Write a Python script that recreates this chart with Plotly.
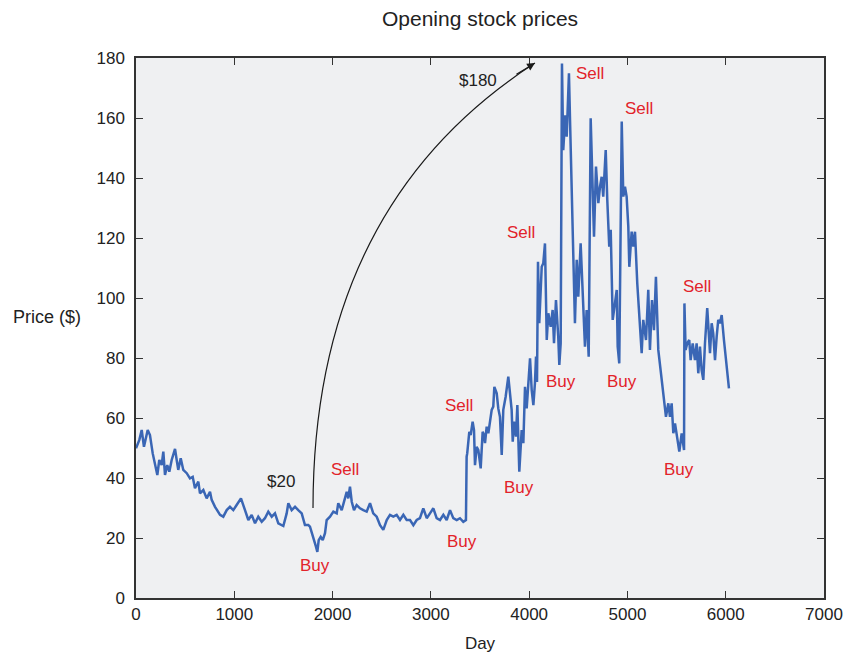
import plotly.graph_objects as go

# opening prices
days = [
    0, 34, 58, 81, 119, 142, 170, 193, 217, 237, 261, 278, 295, 318, 339, 363,
    397, 414, 430, 455, 481, 516, 549, 577, 600, 634, 651, 685, 719, 753, 770,
    804, 855, 888, 923, 956, 990, 1024, 1068, 1109, 1143, 1177, 1211, 1244,
    1279, 1312, 1346, 1381, 1414, 1448, 1499, 1533, 1550, 1584, 1618, 1651,
    1686, 1719, 1753, 1770, 1804, 1831, 1845, 1859, 1879, 1900, 1923, 1940,
    1974, 2008, 2042, 2058, 2093, 2126, 2144, 2160, 2177, 2195, 2218, 2245,
    2279, 2313, 2347, 2381, 2414, 2449, 2483, 2516, 2551, 2584, 2618, 2652,
    2686, 2720, 2754, 2788, 2822, 2856, 2889, 2923, 2958, 2991, 3025, 3059,
    3093, 3127, 3161, 3195, 3228, 3263, 3296, 3330, 3357, 3364, 3370, 3391,
    3405, 3425, 3439, 3449, 3466, 3483, 3507, 3527, 3541, 3551, 3568, 3585,
    3602, 3619, 3635, 3646, 3670, 3686, 3703, 3721, 3737, 3761, 3788, 3805,
    3822, 3833, 3846, 3866, 3880, 3900, 3924, 3941, 3958, 3975, 3991, 4009,
    4026, 4043, 4059, 4070, 4080, 4090, 4103, 4128, 4144, 4161, 4179, 4195,
    4219, 4239, 4253, 4273, 4296, 4307, 4321, 4334, 4347, 4368, 4382, 4405,
    4416, 4433, 4449, 4466, 4484, 4500, 4524, 4551, 4568, 4585, 4606, 4626,
    4647, 4660, 4680, 4704, 4721, 4738, 4754, 4779, 4795, 4815, 4830, 4850,
    4873, 4891, 4901, 4917, 4942, 4958, 4975, 4992, 5009, 5019, 5043, 5060,
    5077, 5100, 5145, 5161, 5189, 5212, 5229, 5250, 5270, 5290, 5314, 5348,
    5392, 5416, 5433, 5450, 5467, 5484, 5501, 5528, 5552, 5576, 5580, 5592,
    5609, 5629, 5643, 5664, 5687, 5704, 5721, 5738, 5755, 5772, 5789, 5812,
    5840, 5857, 5873, 5891, 5908, 5924, 5942, 5959, 5982, 6033,
]
prices = [
    49.9, 52.7, 56, 50.4, 56, 54.3, 48.2, 44.9, 41, 46, 44.3, 48.8, 41, 44.3,
    42.1, 46, 49.7, 46, 42.7, 46.6, 42.7, 41.6, 39.9, 40.4, 36.6, 38.8, 34.9,
    36, 33.2, 35.4, 32.7, 30.4, 27.7, 27.1, 29.3, 30.4, 29.3, 31, 33.2, 29.3,
    26, 27.7, 24.9, 27.1, 25.4, 26.6, 28.8, 27.1, 28.2, 24.9, 24, 28.2, 31.6,
    29.3, 30.4, 29.3, 28.2, 24.3, 24.3, 23.8, 20.4, 17.1, 15.4, 19.3, 20.4,
    19.3, 21.6, 26, 27.1, 28.8, 28.2, 31.6, 29.3, 33.2, 35.4, 33.2, 37.1, 32.1,
    29.3, 31, 29.9, 29.3, 28.8, 31.6, 28.2, 27.1, 24.3, 22.7, 26, 27.7, 27.1,
    27.7, 26, 27.7, 26, 26, 24.3, 26, 26.6, 29.9, 26.6, 28.2, 29.9, 26.6, 26,
    27.7, 26, 29.3, 26.6, 26, 26.6, 25.4, 26, 47.1, 48.2, 55.4, 54.3, 58.8,
    56, 44.3, 50.4, 49.3, 43.2, 55.4, 54.3, 51.6, 57.1, 54.9, 58.2, 62.7, 63.8,
    70.4, 68.2, 63.2, 60.4, 47.7, 62.7, 67.1, 73.8, 68.8, 62.7, 52.1, 58.8,
    53.8, 64.3, 42.1, 56, 51.6, 70.4, 63.2, 69.9, 79.9, 69.3, 64.3, 71.6, 80.5,
    72, 112.1, 91.6, 110.4, 111.6, 118.2, 86, 94.9, 90.4, 96, 84.9, 99.3, 87.1,
    77.7, 84.9, 178.2, 149.3, 160.9, 153.8, 174.9, 159.3, 136, 112.7, 91.6,
    112.7, 100.4, 118.2, 94.9, 83.8, 96, 80.4, 159.9, 131.6, 120.4, 143.8,
    131.6, 137.1, 140.4, 133.8, 149.3, 132.7, 117.1, 122.7, 92.7, 98.2, 102.7,
    83.8, 78.2, 158.8, 133.8, 137.1, 133.8, 123.8, 110.4, 122.1, 117.1, 122.1,
    104.9, 81.6, 92.7, 86, 102.7, 82.7, 99.3, 89.3, 107.1, 82.7, 72.7, 60.4,
    64.9, 60.4, 64.9, 54.9, 58.2, 54.9, 48.8, 54.9, 49.3, 98.2, 82.7, 84.9, 86,
    79.3, 84.9, 79.3, 84.9, 74.9, 83.8, 76, 72.7, 84.9, 96.6, 81.6, 91.6, 88.2,
    79.3, 87.1, 92.7, 91.6, 94.3, 86, 69.9,
]

# buy / sell labels
signal_text = ["Buy", "Sell", "Buy", "Sell", "Buy", "Sell", "Buy", "Sell",
               "Buy", "Sell", "Buy", "Sell"]
signal_day = [1821, 2126, 3317, 3286, 3897, 3917, 4324, 4619, 4945, 5118,
              5525, 5708]
signal_price = [10.7, 42.7, 18.7, 64.3, 36.7, 121.7, 72.3, 174.7, 72.3, 163.3,
                42.7, 103.7]

x_ticks = [0, 1000, 2000, 3000, 4000, 5000, 6000, 7000]
y_ticks = [0, 20, 40, 60, 80, 100, 120, 140, 160, 180]

FONT = "Liberation Sans, Arial, sans-serif"
RED = "#e2232a"
INK = "#222222"

fig = go.Figure()
fig.add_trace(
    go.Scatter(
        x=days,
        y=prices,
        mode="lines",
        line=dict(color="#3a66b5", width=2.5),
        showlegend=False,
        hoverinfo="skip",
    )
)

# curved arrow from $20 up to $180
fig.add_shape(
    type="path",
    path="M 1801,30 C 1801,102.7 2686,149.3 4059,178.3",
    xref="x",
    yref="y",
    line=dict(color="#1a1a1a", width=1.2),
)
fig.add_annotation(
    x=4059, y=178.3, ax=-20, ay=12, text="", showarrow=True,
    arrowhead=2, arrowsize=1.3, arrowwidth=1.2, arrowcolor="#1a1a1a",
)
fig.add_annotation(x=1475, y=39, text="$20", showarrow=False,
                   font=dict(size=17, color=INK))
fig.add_annotation(x=3480, y=172.5, text="$180", showarrow=False,
                   font=dict(size=17, color=INK))

for t, d, p in zip(signal_text, signal_day, signal_price):
    fig.add_annotation(x=d, y=p, text=t, showarrow=False,
                       font=dict(size=17, color=RED))

# y title sits horizontally left of the tick labels
fig.add_annotation(
    xref="paper", yref="paper", x=-0.182, y=0.52, xanchor="left",
    text="Price ($)", showarrow=False, font=dict(size=18, color=INK),
)
# chart title
fig.add_annotation(
    xref="paper", yref="paper", x=0.5, y=1.074, yanchor="middle",
    text="Opening stock prices", showarrow=False,
    font=dict(size=21, color=INK),
)

fig.update_layout(
    width=847,
    height=656,
    autosize=False,
    paper_bgcolor="white",
    plot_bgcolor="#eff0f2",
    font=dict(family=FONT, size=17, color=INK),
    margin=dict(l=136, r=23, t=58, b=58, autoexpand=False),
)

fig.update_xaxes(
    range=[0, 7000],
    tickvals=x_ticks,
    ticks="inside",
    ticklen=7,
    tickcolor="#333",
    showline=True,
    linecolor="#333",
    linewidth=1.5,
    mirror="ticks",
    showgrid=False,
    zeroline=False,
    tickfont=dict(size=17),
    title=dict(text="Day", standoff=14, font=dict(size=17)),
)
fig.update_yaxes(
    range=[0, 180],
    tickvals=y_ticks,
    ticks="inside",
    ticklen=7,
    tickcolor="#333",
    showline=True,
    linecolor="#333",
    linewidth=1.5,
    mirror="ticks",
    showgrid=False,
    zeroline=False,
    tickfont=dict(size=17),
    ticklabelstandoff=6,
)

# page body has a default 8px margin; drop it so the figure fills the window
fig.write_html(
    "out.html",
    config={"displayModeBar": False},
    post_script="document.body.style.margin='0';",
)
